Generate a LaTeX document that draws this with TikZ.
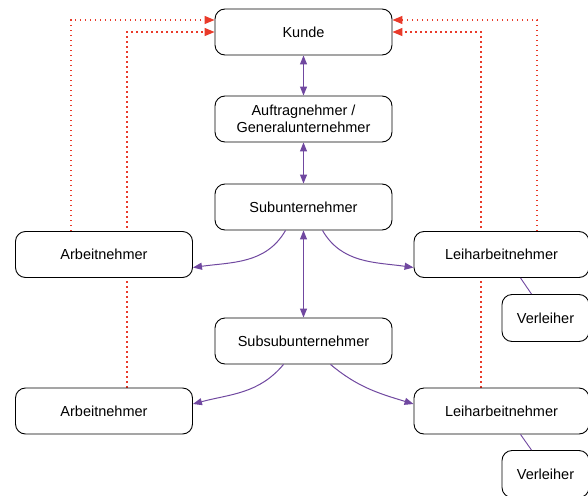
\documentclass[tikz,border=0pt]{standalone}
\usepackage{fontspec}
\setmainfont{Liberation Sans}
\usetikzlibrary{arrows.meta,backgrounds}
\definecolor{lila}{RGB}{112,72,160}
\definecolor{rot}{RGB}{233,58,42}
\tikzset{
  box/.style={draw, rounded corners=10pt, fill=white, line width=0.9pt, align=center,
    font=\fontsize{14.5}{17}\selectfont, inner sep=2pt},
  wide/.style={box, minimum width=177pt, minimum height=46pt},
  small/.style={box, minimum width=87pt, minimum height=47pt},
  rel/.style={lila, line width=1pt, {Triangle[length=9pt,width=7pt]}-{Triangle[length=9pt,width=7pt]}},
  einsatz/.style={lila, line width=1pt, -{Triangle[length=9pt,width=7pt]}},
  verbund/.style={lila, line width=0.9pt},
  leistung/.style={rot, line width=1.3pt, dash pattern=on 1.4pt off 3.6pt, -{Triangle[length=10pt,width=8pt]}}
}
\begin{document}
\begin{tikzpicture}[x=1pt,y=-1pt]
        \useasboundingbox (0,0) rectangle (588,495);
        \node[wide] (kunde) at (303.5, 32) {Kunde};
        \node[wide] (auftrag) at (303.5, 119) {Auftragnehmer /\\Generalunternehmer};
        \node[wide] (sub) at (303.5, 207) {Subunternehmer};
        \node[wide] (subsub) at (303.5, 341) {Subsubunternehmer};
        \node[wide] (arb1) at (104, 254.5) {Arbeitnehmer};
        \node[wide] (arb2) at (104, 411) {Arbeitnehmer};
        \node[wide, minimum width=175pt] (leih1) at (501.5, 254.5) {Leiharbeitnehmer};
        \node[wide, minimum width=175pt] (leih2) at (501.5, 411) {Leiharbeitnehmer};
        \node[small] (verl1) at (545.5, 318) {Verleiher};
        \node[small] (verl2) at (545.5, 474) {Verleiher};
        \draw[rel] (kunde) -- (auftrag);
        \draw[rel] (auftrag) -- (sub);
        \draw[rel] (sub) -- (subsub);
        \draw[einsatz] ([xshift=-18pt]sub.south) to[out=-120, in=8] ([yshift=-13pt]arb1.east);
        \draw[einsatz] ([xshift=19pt]sub.south) to[out=-60, in=172] ([yshift=-13pt]leih1.west);
        \draw[einsatz] ([xshift=-20pt]subsub.south) to[out=-130, in=15] ([yshift=7pt]arb2.east);
        \draw[einsatz] ([xshift=27pt]subsub.south) to[out=-40, in=163] ([yshift=7pt]leih2.west);
        \draw[verbund] ([xshift=19pt]leih1.south) -- ([xshift=-14pt]verl1.north);
        \draw[verbund] ([xshift=19pt]leih2.south) -- ([xshift=-14pt]verl2.north);
        \begin{scope}[on background layer]
        \draw[leistung] ([xshift=-33pt]arb1.north) |- ([yshift=12pt]kunde.west);
        \draw[leistung] ([xshift=23pt]arb2.north) |- (kunde.west);
        \draw[leistung] ([xshift=35.5pt]leih1.north) |- ([yshift=12pt]kunde.east);
        \draw[leistung] ([xshift=-20.5pt]leih2.north) |- (kunde.east);
        \end{scope}
    \end{tikzpicture}
\end{document}
